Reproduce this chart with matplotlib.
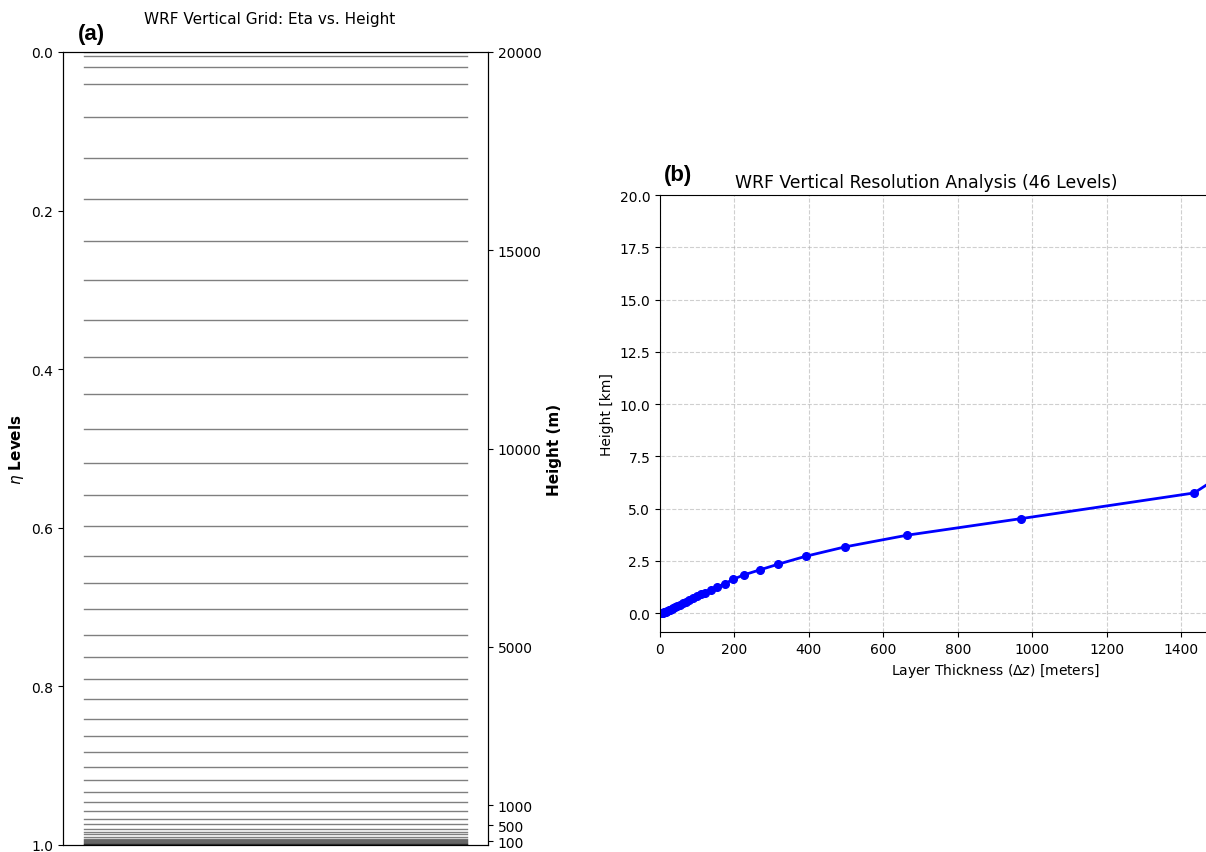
import numpy as np
import matplotlib
matplotlib.use('Agg')
import matplotlib.pyplot as plt

# eta levels (46)
eta_levels = [0.0, 0.005, 0.0185, 0.040, 0.082, 0.134, 0.186, 0.238, 0.288,
              0.338, 0.385, 0.431, 0.475, 0.518, 0.559, 0.598, 0.635, 0.670,
              0.703, 0.735, 0.763, 0.791, 0.816, 0.841, 0.863, 0.883, 0.902,
              0.918, 0.933, 0.946, 0.957, 0.967, 0.974, 0.980, 0.9835, 0.9865,
              0.9895, 0.992, 0.994, 0.9955, 0.9968, 0.9978, 0.9986, 0.9993,
              0.9998, 1.0]
height_ticks = [100, 500, 1000, 5000, 10000, 15000, 20000]
eta_ticks = [0.0, 0.2, 0.4, 0.6, 0.8, 1.0]

# panel (b): layer thickness [m] vs height [km]
dz = [3, 5, 8, 10, 13, 16, 19, 23, 27, 31, 36, 41, 47, 54, 61, 69, 78, 88,
      99, 110, 122, 136, 154, 174, 197, 225, 268, 317, 391, 497, 664, 969,
      1435, 1565, 1620, 1660, 1690, 1710, 1720, 1730, 1740]
z_km = [0.0, 0.01, 0.02, 0.035, 0.055, 0.075, 0.10, 0.13, 0.16, 0.20, 0.24,
        0.29, 0.35, 0.41, 0.47, 0.54, 0.62, 0.72, 0.83, 0.92, 0.98, 1.10,
        1.25, 1.41, 1.62, 1.83, 2.07, 2.34, 2.72, 3.17, 3.73, 4.52, 5.75,
        7.25, 8.85, 10.5, 12.2, 13.9, 15.6, 17.3, 19.0]
dz_ticks = [0, 200, 400, 600, 800, 1000, 1200, 1400]

W, H = 1206, 853
fig = plt.figure(figsize=(W / 100, H / 100), dpi=100)

# (a) eta levels
ax1 = fig.add_axes([63 / W, (H - 846) / H, (488 - 63) / W, (846 - 53) / H])
for e in eta_levels:
    ax1.axhline(e, xmin=0.05, xmax=0.95, color='black', alpha=0.5, lw=1)
ax1.set_xlim(0, 1)
ax1.set_ylim(1, 0)
ax1.set_xticks([])
ax1.set_yticks(eta_ticks)
ax1.set_ylabel(r'$\eta$ Levels', fontweight='bold', fontsize=11)
ax1.set_title('WRF Vertical Grid: Eta vs. Height', pad=21, fontsize=11,
              x=0.485)

ax1b = ax1.twinx()
ax1b.set_ylim(0, 20000)
ax1b.set_yticks(height_ticks)
ax1b.set_ylabel('Height (m)', fontweight='bold', fontsize=11)

# (b) vertical resolution -- the axes runs past the right edge of the image
ax2 = fig.add_axes([660 / W, (H - 633) / H, 670 / W, (633 - 196) / H])
ax2.plot(dz, z_km, 'o-', color='blue', lw=2, ms=5.5)
ax2.set_xlim(0, 1800)
ax2.set_ylim(-0.9, 20)
ax2.set_xticks(dz_ticks)
ax2.set_yticks(np.arange(0, 20.1, 2.5))
ax2.grid(True, linestyle='--', alpha=0.6)
ax2.set_xlabel(r'Layer Thickness ($\Delta z$) [meters]')
ax2.set_ylabel('Height [km]')
ax2.set_title('WRF Vertical Resolution Analysis (46 Levels)', fontsize=12.4,
              x=(926 - 660) / 670)

fig.text(78 / W, 1 - 45 / H, '(a)', fontsize=16, fontweight='bold',
         family='Liberation Sans', va='bottom')
fig.text(664 / W, 1 - 186 / H, '(b)', fontsize=16, fontweight='bold',
         family='Liberation Sans', va='bottom')

fig.savefig('out.png', dpi=100)
